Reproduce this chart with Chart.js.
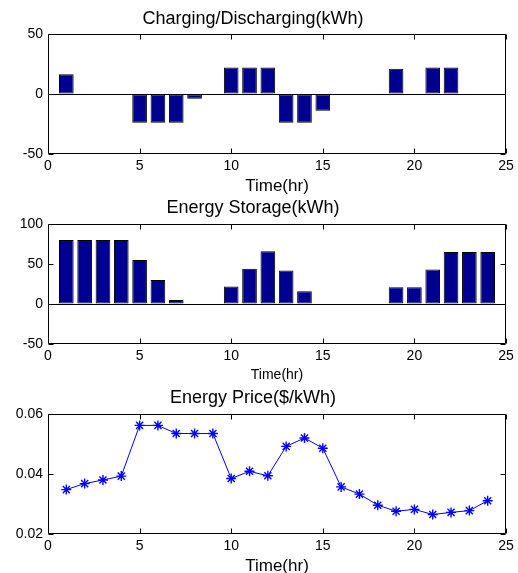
<!DOCTYPE html>
<html>
<head>
<meta charset="utf-8">
<script src="https://cdn.jsdelivr.net/npm/chart.js@4.4.1/dist/chart.umd.min.js"></script>
<style>
  html, body { margin: 0; padding: 0; overflow: hidden; background: #fff; width: 518px; height: 573px; }
  canvas { position: absolute; left: 0; }
</style>
</head>
<body>
<canvas id="c1" width="518" height="197" style="top:0px"></canvas>
<canvas id="c2" width="518" height="189" style="top:197px"></canvas>
<canvas id="c3" width="518" height="200" style="top:386px"></canvas>
<script>
// ----------------------
// DATA
// ----------------------
const hours = [1, 2, 3, 4, 5, 6, 7, 8, 9, 10, 11, 12, 13, 14, 15, 16, 17, 18, 19, 20, 21, 22, 23, 24];

const chargeValues = [16.5, 0, 0, 0, -24, -24, -24, -4, 0, 22, 22, 22, -24, -24, -14, 0, 0, 0, 21, 0, 22, 22, 0, 0];
const storageValues = [80, 80, 80, 80, 55, 30, 5, 0, 0, 22, 44, 66, 42, 16, 0, 0, 0, 0, 21, 21, 43, 65, 65, 65];
const priceValues = [0.0348, 0.0368, 0.0380, 0.0393, 0.0562, 0.0562, 0.0535, 0.0535, 0.0535, 0.0385, 0.0409, 0.0394,
                     0.0492, 0.0520, 0.0486, 0.0357, 0.0333, 0.0296, 0.0276, 0.0282, 0.0265, 0.0272, 0.0278, 0.0311];

const xTicks = [0, 5, 10, 15, 20, 25];
const chargeTicks = [-50, 0, 50];
const storageTicks = [-50, 0, 50, 100];
const priceTicks = [0.02, 0.04, 0.06];

// ----------------------
// COMMON SETUP
// ----------------------
const FONT = "'Liberation Sans', Arial, sans-serif";
Chart.defaults.font.family = FONT;
Chart.defaults.color = '#000';

const BAR_COLOR = '#000090';

// box around the plot + MATLAB style inward ticks
const framePlugin = {
  id: 'frame',
  afterDraw(chart) {
    const { ctx, chartArea: a, scales } = chart;
    const L = Math.round(a.left) + 0.5, R = Math.round(a.right) - 0.5;
    const T = Math.round(a.top) + 0.5, B = Math.round(a.bottom) - 0.5;
    ctx.save();
    ctx.strokeStyle = '#000';
    ctx.lineWidth = 1;
    ctx.beginPath();
    ctx.rect(L, T, R - L, B - T);
    scales.x.ticks.forEach(t => {
      const px = Math.round(scales.x.getPixelForValue(t.value)) + 0.5;
      ctx.moveTo(px, B); ctx.lineTo(px, B - 5);
      ctx.moveTo(px, T); ctx.lineTo(px, T + 5);
    });
    scales.y.ticks.forEach(t => {
      const py = Math.round(scales.y.getPixelForValue(t.value)) + 0.5;
      ctx.moveTo(L, py); ctx.lineTo(L + 5, py);
      ctx.moveTo(R, py); ctx.lineTo(R - 5, py);
    });
    ctx.stroke();
    ctx.restore();
  }
};

function xScale(height, labelSize, pad) {
  return {
    type: 'linear',
    min: 0, max: 25,
    offset: false,
    afterBuildTicks: s => { s.ticks = xTicks.map(v => ({ value: v })); },
    afterFit: s => { s.height = height; },
    grid: { display: false, drawTicks: false },
    border: { display: false },
    ticks: { font: { size: 14 }, padding: 4, maxRotation: 0 },
    title: { display: true, text: 'Time(hr)', font: { size: labelSize }, padding: { top: 0, bottom: pad } }
  };
}

function yScale(ticks, min, max, zeroLine, fmt) {
  return {
    min: min, max: max,
    afterBuildTicks: s => { s.ticks = ticks.map(v => ({ value: v })); },
    afterFit: s => { s.width = 48; },
    grid: {
      display: zeroLine,
      drawTicks: false,
      color: c => (c.tick && c.tick.value === 0) ? '#000' : 'rgba(0,0,0,0)',
      lineWidth: 1
    },
    border: { display: false },
    ticks: { font: { size: 14 }, padding: 5, callback: fmt || (v => v) }
  };
}

function titleOpts(text, top, bottom) {
  return {
    display: true,
    text: text,
    color: '#000',
    font: { size: 18, weight: 'normal' },
    padding: { top: top, bottom: bottom }
  };
}

function barChart(id, values, title, yTicks, yMin, yMax, tPadTop, tPadBottom, xHeight, xLabelSize, xPad) {
  const ctx = document.getElementById(id).getContext('2d');
  return new Chart(ctx, {
    type: 'bar',
    data: {
      datasets: [{
        data: hours.map((h, i) => ({ x: h, y: values[i] })),
        backgroundColor: BAR_COLOR,
        borderColor: '#000',
        borderWidth: 1,
        borderSkipped: false,
        barPercentage: 0.8,
        categoryPercentage: 1.0
      }]
    },
    options: {
      responsive: false,
      animation: false,
      devicePixelRatio: 1,
      layout: { padding: { left: 0, right: 12, top: 0, bottom: 0 } },
      plugins: {
        legend: { display: false },
        tooltip: { enabled: false },
        title: titleOpts(title, tPadTop, tPadBottom)
      },
      scales: {
        x: xScale(xHeight, xLabelSize, xPad),
        y: yScale(yTicks, yMin, yMax, true)
      }
    },
    plugins: [framePlugin]
  });
}

// ----------------------
// CHARTS
// ----------------------
barChart('c1', chargeValues, 'Charging/Discharging(kWh)', chargeTicks, -50, 50, 8, 4.4, 43, 17, 0);
barChart('c2', storageValues, 'Energy Storage(kWh)', storageTicks, -50, 100, 0, 5.4, 42, 14, 2.6);

new Chart(document.getElementById('c3').getContext('2d'), {
  type: 'line',
  data: {
    datasets: [{
      data: hours.map((h, i) => ({ x: h, y: priceValues[i] })),
      borderColor: '#0000ff',
      borderWidth: 1,
      tension: 0,
      pointStyle: 'star',
      pointRadius: 5,
      pointBorderColor: '#0000ff',
      pointBackgroundColor: '#0000ff',
      pointBorderWidth: 1.4
    }]
  },
  options: {
    responsive: false,
    animation: false,
    devicePixelRatio: 1,
    layout: { padding: { left: 0, right: 12, top: 0, bottom: 0 } },
    plugins: {
      legend: { display: false },
      tooltip: { enabled: false },
      title: titleOpts('Energy Price($/kWh)', 1.2, 5.2)
    },
    scales: {
      x: xScale(52, 17, 9),
      y: yScale(priceTicks, 0.02, 0.06, false, v => v.toFixed(2))
    }
  },
  plugins: [framePlugin]
});
</script>
</body>
</html>
